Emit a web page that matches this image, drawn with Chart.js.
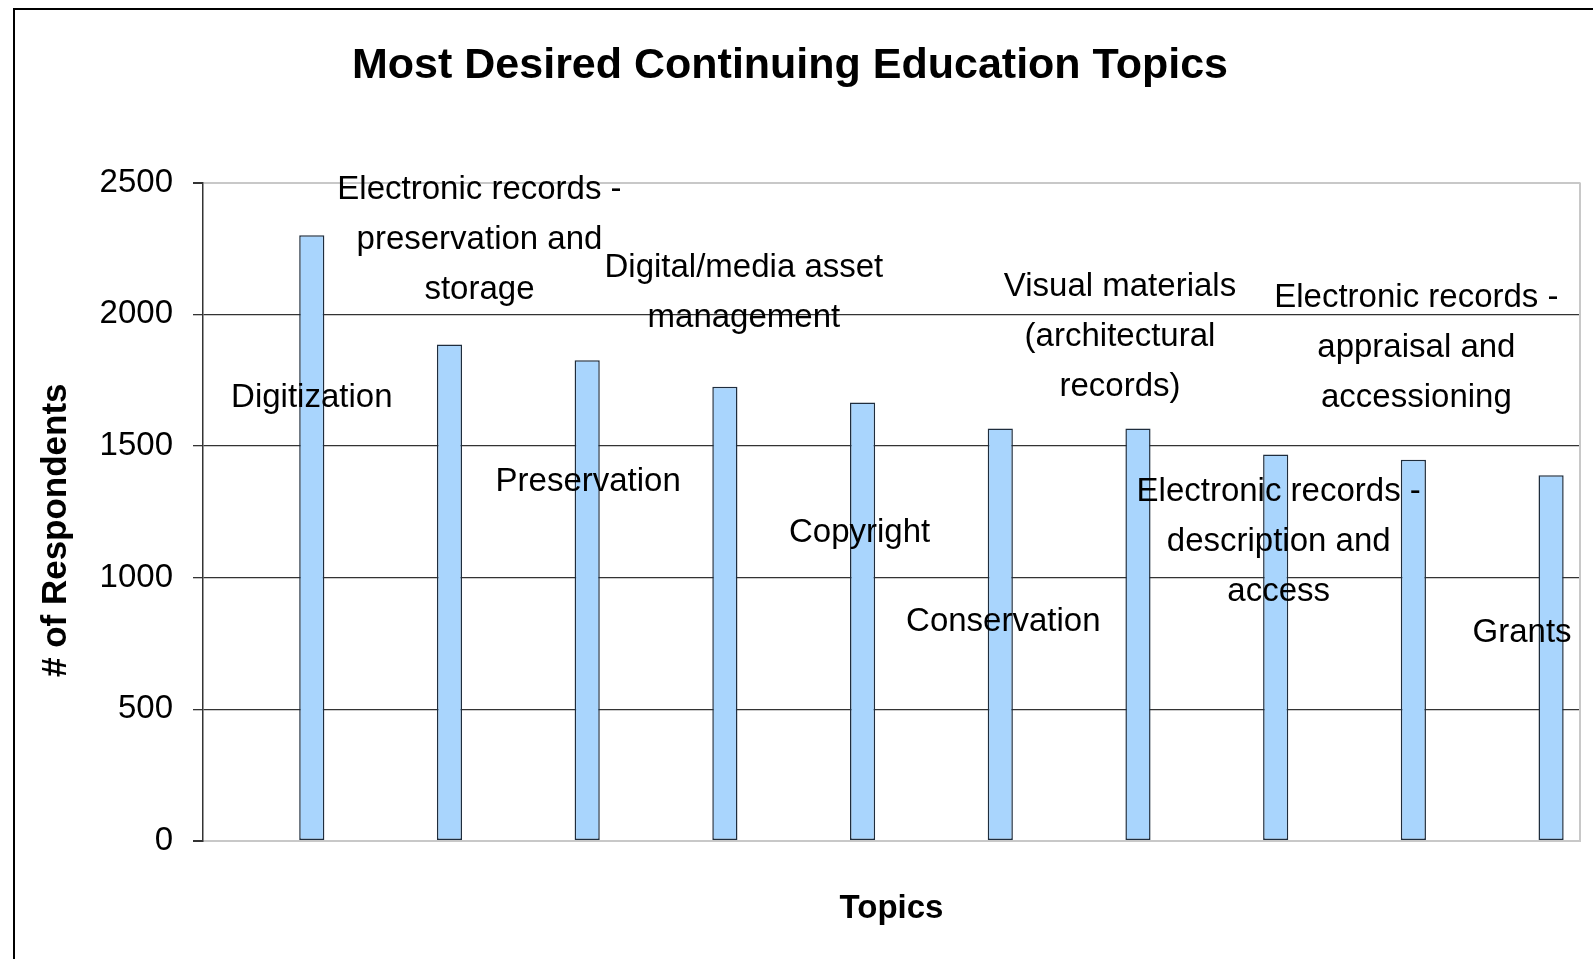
<!DOCTYPE html>
<html>
<head>
<meta charset="utf-8">
<title>Most Desired Continuing Education Topics</title>
<script src="https://cdn.jsdelivr.net/npm/chart.js@4.4.1/dist/chart.umd.min.js"></script>
<style>
  html, body { margin: 0; padding: 0; background: #fff; overflow: hidden; }
  #wrap { position: relative; width: 1593px; height: 959px; }
  #frame { position: absolute; left: 13px; top: 8px; width: 1700px; height: 1100px; border: 2px solid #000; box-sizing: border-box; }
  #chart { position: absolute; left: 0; top: 0; }
</style>
</head>
<body>
<div id="wrap">
  <div id="frame"></div>
  <canvas id="chart" width="1593" height="959"></canvas>
</div>
<script>
// topic names, one entry per bar (split in lines as they are printed in the plot)
const topics = [
  ['Digitization'],
  ['Electronic records -', 'preservation and', 'storage'],
  ['Preservation'],
  ['Digital/media asset', 'management'],
  ['Copyright'],
  ['Conservation'],
  ['Visual materials', '(architectural', 'records)'],
  ['Electronic records -', 'description and', 'access'],
  ['Electronic records -', 'appraisal and', 'accessioning'],
  ['Grants']
];
const respondents = [2300, 1885, 1825, 1725, 1665, 1566, 1566, 1468, 1448, 1389];
const yTicks = [0, 500, 1000, 1500, 2000, 2500];

// where each topic name sits in the plot: y in axis units, small x nudge in px
const labelLevel = [1683, 2283, 1365, 2080, 1170, 832, 1914, 1136, 1874, 790];
const labelNudge = [0, 30, 1, 19, -3, 3, -18, 3, 3, -29];

const FONT = '"Liberation Sans", Arial, sans-serif';

// light grey frame on the right side of the plot
const plotFrame = {
  id: 'plotFrame',
  beforeDatasetsDraw(chart) {
    const {ctx, chartArea: a} = chart;
    ctx.save();
    ctx.strokeStyle = '#c8c8c8';
    ctx.lineWidth = 2;
    ctx.beginPath();
    ctx.moveTo(a.right, a.top);
    ctx.lineTo(a.right, a.bottom);
    ctx.stroke();
    ctx.restore();
  }
};

// topic names written inside the plot next to their bars, plus the y axis title
const topicLabels = {
  id: 'topicLabels',
  afterDatasetsDraw(chart) {
    const {ctx} = chart;
    const meta = chart.getDatasetMeta(2);
    const y = chart.scales.y;
    ctx.save();
    ctx.font = '33px ' + FONT;
    ctx.fillStyle = '#000';
    ctx.textAlign = 'center';
    ctx.textBaseline = 'middle';
    topics.forEach((lines, i) => {
      const cx = meta.data[i].x + labelNudge[i];
      const cy = y.getPixelForValue(labelLevel[i]);
      const lh = 50;
      lines.forEach((t, k) => {
        ctx.fillText(t, cx, cy + (k - (lines.length - 1) / 2) * lh);
      });
    });
    // y axis title, a bit below the middle of the axis like the original
    ctx.translate(56, y.getPixelForValue(1180));
    ctx.rotate(-Math.PI / 2);
    ctx.font = 'bold 35px ' + FONT;
    ctx.fillText('# of Respondents', 0, 0);
    ctx.restore();
  }
};

new Chart(document.getElementById('chart'), {
  type: 'bar',
  data: {
    labels: topics.map(t => t.join(' ')),
    datasets: [
      // two empty series: the bars sit on the right of each category slot
      { label: '', data: topics.map(() => null) },
      { label: '', data: topics.map(() => null) },
      {
        label: '# of Respondents',
        data: respondents,
        backgroundColor: '#a9d5fd',
        borderColor: '#1f2d3d',
        borderWidth: 1.5,
        borderSkipped: false
      }
    ]
  },
  options: {
    responsive: false,
    animation: false,
    devicePixelRatio: 1,
    categoryPercentage: 0.87,
    barPercentage: 0.63,
    layout: { padding: { top: 0, right: 13, bottom: 0, left: 0 } },
    plugins: {
      legend: { display: false },
      tooltip: { enabled: false },
      title: {
        display: true,
        text: 'Most Desired Continuing Education Topics',
        color: '#000',
        font: { family: FONT, size: 43, weight: 'bold' },
        padding: { top: 40, bottom: 91 }
      }
    },
    scales: {
      x: {
        offset: true,
        grid: { display: false },
        border: { display: true, color: '#c8c8c8', width: 2 },
        ticks: { display: false },
        title: {
          display: true,
          text: 'Topics',
          color: '#000',
          font: { family: FONT, size: 33, weight: 'bold' },
          padding: { top: 48, bottom: 30 }
        },
        afterFit(scale) { scale.height = 118; }
      },
      y: {
        min: 0,
        max: 2500,
        afterBuildTicks(scale) { scale.ticks = yTicks.map(v => ({ value: v })); },
        grid: {
          color: c => (c.tick && (c.tick.value === 0 || c.tick.value === 2500)) ? '#c8c8c8' : '#333333',
          lineWidth: c => (c.tick && (c.tick.value === 0 || c.tick.value === 2500)) ? 2 : 1.3,
          tickColor: '#333333',
          tickLength: 10
        },
        border: { display: true, color: '#333333', width: 1.5 },
        ticks: {
          color: '#000',
          padding: 20,
          font: { family: FONT, size: 33 },
          callback: v => String(v)
        },
        title: { display: false },
        afterFit(scale) { scale.width = 203; }
      }
    }
  },
  plugins: [plotFrame, topicLabels]
});
</script>
</body>
</html>
